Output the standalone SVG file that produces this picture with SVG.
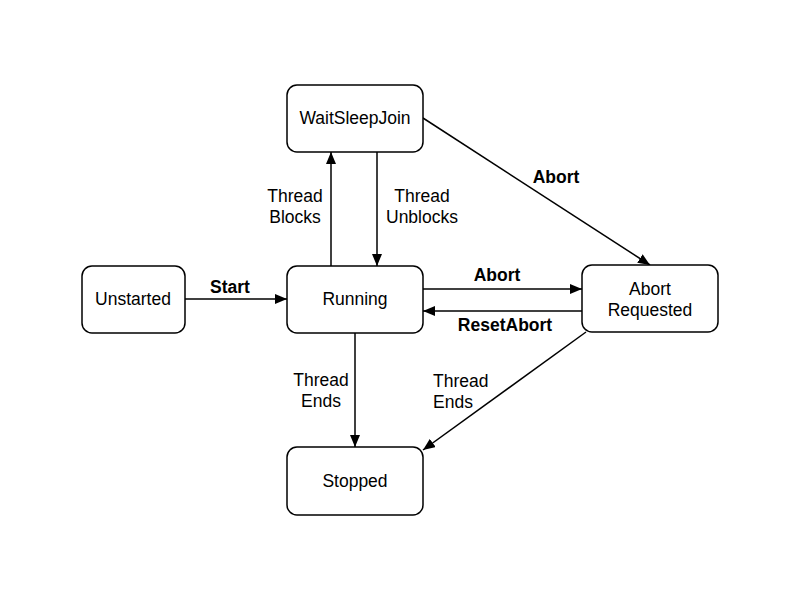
<svg xmlns="http://www.w3.org/2000/svg" width="800" height="600" viewBox="0 0 800 600">
<style>
.node rect{fill:#fff;stroke:#000;stroke-width:1.5}
text{font-family:"Liberation Sans",Arial,sans-serif;font-size:17.5px;fill:#000;text-anchor:middle}
.b{font-weight:bold}
.s{text-anchor:start}
.edge{stroke:#000;stroke-width:1.5;fill:none;marker-end:url(#ah)}
</style>
<defs>
<marker id="ah" viewBox="0 0 12 10" refX="12" refY="5" markerWidth="12" markerHeight="10" markerUnits="userSpaceOnUse" orient="auto">
<path d="M0,0 L12,5 L0,10 z" fill="#000"/>
</marker>
</defs>
<rect width="800" height="600" fill="#fff"/>
<g id="edges">
<line class="edge" x1="185" y1="299" x2="287" y2="299"/>
<line class="edge" x1="423" y1="289" x2="582" y2="289"/>
<line class="edge" x1="582" y1="311" x2="423" y2="311"/>
<line class="edge" x1="331" y1="266" x2="331" y2="152"/>
<line class="edge" x1="377" y1="152" x2="377" y2="266"/>
<line class="edge" x1="423" y1="118" x2="650" y2="265"/>
<line class="edge" x1="355" y1="333" x2="355" y2="447"/>
<line class="edge" x1="586" y1="332" x2="423" y2="450"/>
<text class="b" x="230" y="293">Start</text>
<text class="b" x="497" y="281">Abort</text>
<text class="b" x="505" y="331">ResetAbort</text>
<text x="295" y="202">Thread</text>
<text x="295" y="223">Blocks</text>
<text x="422" y="202">Thread</text>
<text x="422" y="223">Unblocks</text>
<text class="b" x="556" y="183">Abort</text>
<text x="321" y="386">Thread</text>
<text x="321" y="407">Ends</text>
<text class="s" x="433" y="387">Thread</text>
<text class="s" x="433" y="408">Ends</text>
</g>
<g id="WaitSleepJoin" class="node"><rect x="287" y="85" width="136" height="67" rx="10"/><text x="355" y="124">WaitSleepJoin</text></g>
<g id="Unstarted" class="node"><rect x="82" y="266" width="103" height="67" rx="10"/><text x="133" y="305">Unstarted</text></g>
<g id="Running" class="node"><rect x="287" y="266" width="136" height="67" rx="10"/><text x="355" y="305">Running</text></g>
<g id="AbortRequested" class="node"><rect x="582" y="265" width="136" height="67" rx="10"/><text x="650" y="295">Abort</text><text x="650" y="316">Requested</text></g>
<g id="Stopped" class="node"><rect x="287" y="447" width="136" height="68" rx="10"/><text x="355" y="487">Stopped</text></g>
</svg>
